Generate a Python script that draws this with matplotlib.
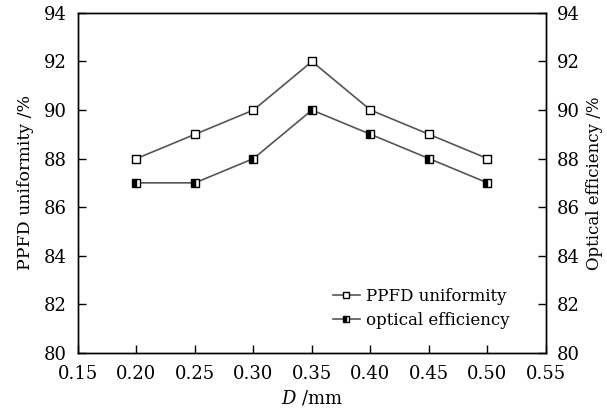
import matplotlib
matplotlib.use("Agg")
import matplotlib.pyplot as plt

D = [0.20, 0.25, 0.30, 0.35, 0.40, 0.45, 0.50]
ppfd_uniformity = [88, 89, 90, 92, 90, 89, 88]
optical_efficiency = [87, 87, 88, 90, 89, 88, 87]
x_ticks = [0.15, 0.20, 0.25, 0.30, 0.35, 0.40, 0.45, 0.50, 0.55]
y_ticks = [80, 82, 84, 86, 88, 90, 92, 94]

plt.rcParams['font.family'] = ['DejaVu Serif']
plt.rcParams['mathtext.fontset'] = 'dejavuserif'
plt.rcParams['font.size'] = 13

fig = plt.figure(figsize=(6.07, 4.17), dpi=100)
ax = fig.add_axes([0.1285, 0.154, 0.771, 0.815])

ax.plot(D, ppfd_uniformity, color='#555555', lw=1.2, marker='s', ms=6,
        mfc='white', mec='black', mew=1.0, label='PPFD uniformity')
ax.plot(D, optical_efficiency, color='#555555', lw=1.2, marker='s', ms=6,
        mfc='black', mec='black', mew=1.0, fillstyle='left',
        markerfacecoloralt='white', label='optical efficiency')

ax.set_xlim(0.15, 0.55)
ax.set_ylim(80, 94)
ax.set_xticks(x_ticks)
ax.set_xticklabels([f"{t:.2f}" for t in x_ticks])
ax.set_yticks(y_ticks)
ax.tick_params(axis='x', direction='in', length=6, width=1, pad=9, top=False)
ax.tick_params(axis='y', direction='in', length=6, width=1, pad=8, right=False)
ax.set_xlabel(r"$D$ /mm", labelpad=4)
ax.set_ylabel("PPFD uniformity /%", labelpad=7, fontsize=12.5)
for s in ax.spines.values():
    s.set_linewidth(1.0)

ax2 = ax.twinx()
ax2.set_ylim(80, 94)
ax2.set_yticks(y_ticks)
ax2.tick_params(direction='in', length=6, width=1, pad=8)
ax2.set_ylabel("Optical efficiency /%", labelpad=4, fontsize=12)
for s in ax2.spines.values():
    s.set_linewidth(1.0)

ax.legend(loc='upper left', bbox_to_anchor=(0.545, 0.19), frameon=False,
          handlelength=1.6, handletextpad=0.4, labelspacing=0.4, fontsize=12,
          markerscale=0.8, borderaxespad=0, borderpad=0)

fig.savefig("out.png", dpi=100)
